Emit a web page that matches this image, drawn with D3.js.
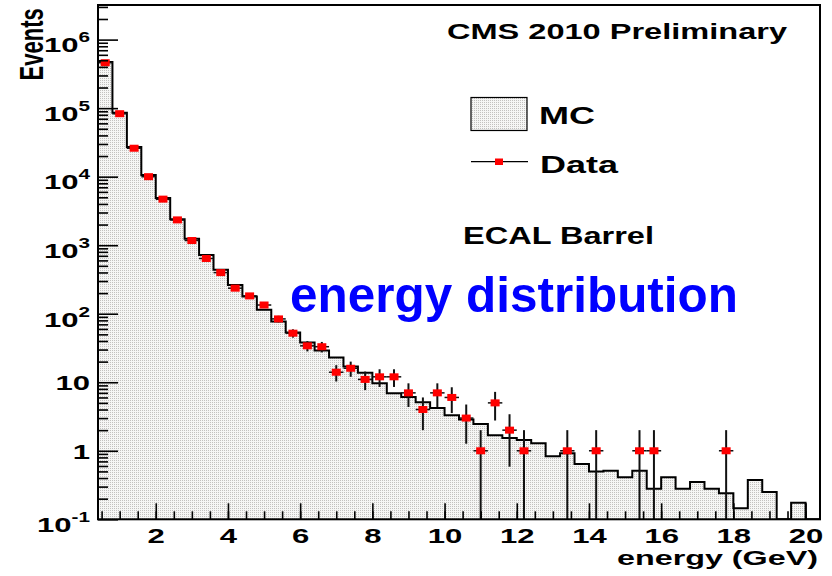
<!DOCTYPE html>
<html><head><meta charset="utf-8">
<script src="https://cdn.jsdelivr.net/npm/d3@7"></script>
<style>html,body{margin:0;padding:0;background:#fff;} svg{display:block;}</style>
</head><body>
<svg id="c" width="832" height="576"></svg>
<script>
// ---- data ----
const binLow = [0.4,0.8,1.2,1.6,2.0,2.4,2.8,3.2,3.6,4.0,4.4,4.8,5.2,5.6,6.0,6.4,6.8,7.2,7.6,8.0,
                8.4,8.8,9.2,9.6,10.0,10.4,10.8,11.2,11.6,12.0,12.4,12.8,13.2,13.6,14.0,14.4,14.8,15.2,15.6,16.0,
                16.4,16.8,17.2,17.6,18.0,18.4,18.8,19.2,19.6,20.0];
const binWidth = 0.4;
const mcValues = [470000,86000,27200,10600,4900,2400,1240,720,437,263,178,114,77,53,38,29,23,17,13.8,9.7,
                  6.9,6.1,5.1,4.2,3.3,2.85,2.45,1.68,1.54,1.44,1.29,0.83,0.92,0.64,0.50,0.51,0.41,0.51,0.28,0.41,
                  0.28,0.35,0.28,0.24,0.145,0.375,0.25,0,0.175,0];
const dataCounts = [460000,83000,26000,10000,4700,2340,1170,640,398,236,182,134,84,52,34,33,14,16,11,12,
                    12,7,4,7,6,3,1,5,2,1,0,0,1,0,1,0,0,1,1,0,
                    0,0,0,1,0,0,0,0,0,0];
const xTickLabels = [2,4,6,8,10,12,14,16,18,20];
const yTickValues = [0.1,1,10,100,1000,10000,100000,1000000];
const yTickBase = ["10","1","10","10","10","10","10","10"];
const yTickExp  = ["-1","","","2","3","4","5","6"];

// ---- layout ----
const L = 98, R = 820, T = 5, B = 519.3;
const svg = d3.select("#c");
const x = d3.scaleLinear().domain([0.4, 20.4]).range([L, R]);
const y = d3.scaleLog().domain([0.1, 3.2e6]).range([B, T]);
const FONT = "'Liberation Sans', Arial, Helvetica, sans-serif";

const defs = svg.append("defs");
const pat = defs.append("pattern").attr("id","dots").attr("patternUnits","userSpaceOnUse")
  .attr("width",2).attr("height",2);
pat.append("rect").attr("width",2).attr("height",2).attr("fill","#f6f6f5");
pat.append("rect").attr("width",1).attr("height",1).attr("fill","#c3c1bf");
defs.append("clipPath").attr("id","plot").append("rect")
  .attr("x",L).attr("y",T).attr("width",R-L).attr("height",B-T);

const yc = v => (v > 0 ? Math.min(y(v), B) : B);

// ---- MC histogram ----
const pts = [[x(binLow[0]), B]];
binLow.forEach((lo,i) => {
  const yy = yc(mcValues[i]);
  pts.push([x(lo), yy]); pts.push([x(lo + binWidth), yy]);
});
pts.push([x(binLow[binLow.length-1] + binWidth), B]);
const gPlot = svg.append("g").attr("clip-path","url(#plot)");
gPlot.append("path").attr("d", d3.line()(pts) + "Z").attr("fill","url(#dots)").attr("stroke","none");
gPlot.append("path").attr("d", d3.line()(pts)).attr("fill","none").attr("stroke","#000").attr("stroke-width",2);

// ---- data points ----
const dpts = binLow.map((lo,i) => ({c: lo + binWidth/2, n: dataCounts[i]})).filter(d => d.n > 0);
const gErr = gPlot.append("g").attr("stroke","#111").attr("stroke-width",2);
dpts.forEach(d => {
  const e = Math.sqrt(d.n);
  gErr.append("line").attr("x1",x(d.c)).attr("x2",x(d.c))
    .attr("y1", d.n - e > 0 ? y(d.n - e) : B + 3).attr("y2", y(d.n + e));
  gErr.append("line").attr("x1",x(d.c - binWidth/2)).attr("x2",x(d.c + binWidth/2))
    .attr("y1",y(d.n)).attr("y2",y(d.n)).attr("stroke-width",1.5);
});
gPlot.append("g").selectAll("rect").data(dpts).join("rect")
  .attr("x", d => x(d.c) - 4.5).attr("y", d => y(d.n) - 3.5)
  .attr("width",9).attr("height",7).attr("fill","#ff0000");

// ---- axes ----
const xMinor = d3.range(0.5, 20.01, 0.5);
const gx1 = svg.append("g").attr("transform",`translate(0,${B})`)
  .call(d3.axisBottom(x).tickValues(xMinor).tickSize(-8).tickFormat(""));
const gx2 = svg.append("g").attr("transform",`translate(0,${B})`)
  .call(d3.axisBottom(x).tickValues(xTickLabels).tickSize(-16).tickFormat(d3.format("d")));
[gx1,gx2].forEach(g => { g.select(".domain").remove(); g.selectAll("line").attr("stroke","#000").attr("stroke-width",1.6); });
gx2.selectAll("text").attr("y",23.4).attr("dy",null).attr("fill","#000")
  .attr("font-family",FONT).attr("font-weight","bold").attr("font-size",21)
  .attr("transform","scale(1.48,1)");

const yMinor = [];
for (let n = -1; n <= 6; n++) for (let k = 2; k <= 9; k++) { const v = k * Math.pow(10,n); if (v < 3.2e6) yMinor.push(v); }
const gy1 = svg.append("g").attr("transform",`translate(${L},0)`)
  .call(d3.axisLeft(y).tickValues(yMinor).tickSize(-10).tickFormat(""));
const gy2 = svg.append("g").attr("transform",`translate(${L},0)`)
  .call(d3.axisLeft(y).tickValues(yTickValues).tickSize(-20).tickFormat(""));
[gy1,gy2].forEach(g => { g.select(".domain").remove(); g.selectAll("line").attr("stroke","#000").attr("stroke-width",1.6); });
gy2.selectAll(".tick").each(function(d,i){
  const t = d3.select(this).select("text");
  t.text(null).attr("x",0).attr("dy",null).attr("y", yTickExp[i] ? 12.3 : 7.5)
   .attr("text-anchor","end").attr("fill","#000")
   .attr("font-family",FONT).attr("font-weight","bold").attr("font-size",21)
   .attr("transform","translate(-8,0) scale(1.48,1)");
  t.append("tspan").text(yTickBase[i]);
  if (yTickExp[i]) t.append("tspan").attr("font-size",14).attr("dy",-10).text(yTickExp[i]);
});

// ---- frame ----
svg.append("rect").attr("x",L).attr("y",T).attr("width",R-L).attr("height",B-T)
  .attr("fill","none").attr("stroke","#000").attr("stroke-width",2);

// ---- texts ----
const txt = (s, xx, yy, size, len, opts={}) => svg.append("text").attr("x",xx).attr("y",yy)
  .attr("font-family",FONT).attr("font-weight","bold").attr("font-size",size)
  .attr("fill", opts.fill || "#000")
  .attr("textLength",len).attr("lengthAdjust","spacingAndGlyphs").text(s);

txt("energy (GeV)", 617, 565, 21, 201);
svg.append("text").attr("transform","translate(43.3,8.3) rotate(-90) scale(1,1.48)")
  .attr("text-anchor","end").attr("font-family",FONT).attr("font-weight","bold")
  .attr("font-size",22).attr("fill","#000").text("Events");

txt("CMS 2010 Preliminary", 447, 38.5, 22, 340);
txt("ECAL Barrel", 463, 244.3, 23, 191);
txt("energy distribution", 290, 311.7, 50, 448, {fill:"#0000ff"});

// legend
svg.append("rect").attr("x",471).attr("y",97.5).attr("width",56).attr("height",33)
  .attr("fill","url(#dots)").attr("stroke","#000").attr("stroke-width",1.2);
txt("MC", 539, 123.5, 23, 56);
svg.append("line").attr("x1",471).attr("x2",528).attr("y1",161.7).attr("y2",161.7)
  .attr("stroke","#000").attr("stroke-width",1.2);
svg.append("rect").attr("x",495).attr("y",158.5).attr("width",8).attr("height",6.5).attr("fill","#ff0000");
txt("Data", 540, 173, 23, 78);
</script>
</body></html>
